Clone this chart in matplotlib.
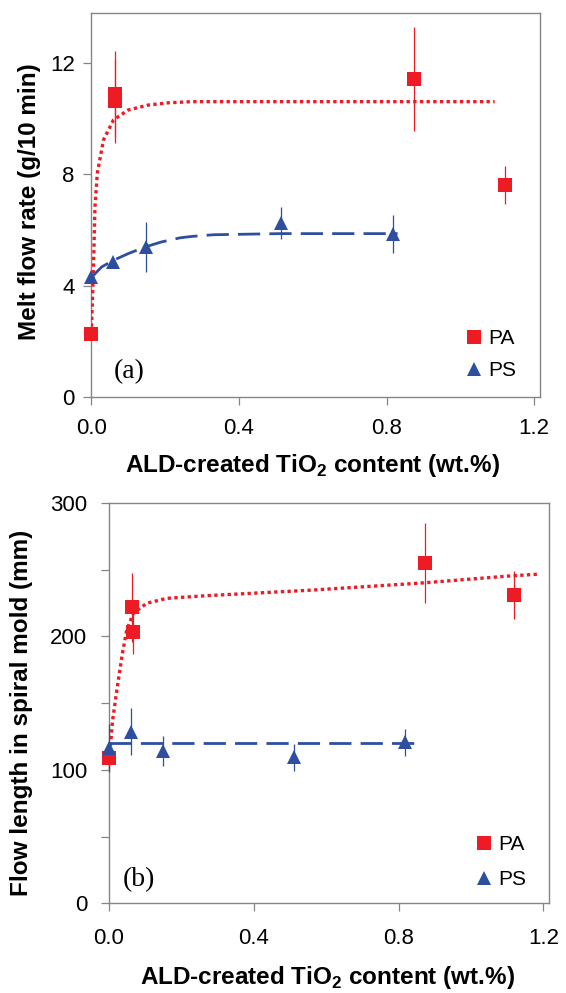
import matplotlib
matplotlib.use("Agg")
import matplotlib.pyplot as plt
from matplotlib.lines import Line2D
from matplotlib.ticker import FormatStrFormatter

plt.rcParams['font.family'] = ['Liberation Sans', 'DejaVu Sans']
plt.rcParams['mathtext.fontset'] = 'custom'
plt.rcParams['mathtext.rm'] = 'Liberation Sans'
plt.rcParams['mathtext.bf'] = 'Liberation Sans:bold'

RED = '#ED1C24'
BLUE = '#2E4F9F'
GRAY = '#868686'

# (a) melt flow rate
pa_x_a = [0.0, 0.064, 0.065, 0.874, 1.12]
pa_y_a = [2.25, 10.89, 10.65, 11.44, 7.62]
pa_err_a = [0.0, 1.55, 1.52, 1.86, 0.69]
ps_x_a = [0.0, 0.060, 0.147, 0.515, 0.818]
ps_y_a = [4.30, 4.85, 5.39, 6.25, 5.85]
ps_err_a = [0.0, 0.0, 0.90, 0.58, 0.68]
# trend lines
pa_fit_x_a = [0.0, 0.0055, 0.010, 0.0163, 0.033, 0.060, 0.10, 0.155, 0.21, 0.273, 1.093]
pa_fit_y_a = [2.28, 4.44, 6.84, 8.04, 9.24, 9.96, 10.32, 10.50, 10.58, 10.62, 10.62]
ps_fit_x_a = [0.0, 0.028, 0.060, 0.10, 0.146, 0.19, 0.241, 0.273, 0.332, 0.513, 0.83]
ps_fit_y_a = [4.29, 4.67, 4.91, 5.15, 5.39, 5.57, 5.72, 5.77, 5.83, 5.87, 5.87]

# (b) flow length in spiral mold
pa_x_b = [0.0, 0.064, 0.065, 0.874, 1.12]
pa_y_b = [108.6, 221.7, 203.0, 254.6, 230.9]
pa_err_b = [8.3, 26.0, 16.5, 30.0, 18.0]
ps_x_b = [0.0, 0.060, 0.148, 0.512, 0.817]
ps_y_b = [116.0, 128.5, 114.3, 109.3, 120.5]
ps_err_b = [18.0, 17.5, 11.2, 10.3, 10.3]
pa_fit_x_b = [0.0, 0.003, 0.010, 0.023, 0.037, 0.049, 0.067, 0.104, 0.159, 0.269, 0.562, 0.874, 1.103, 1.185]
pa_fit_y_b = [108.0, 114.8, 137.3, 162.2, 187.2, 204.7, 217.2, 224.7, 228.4, 230.4, 234.6, 240.1, 245.1, 246.5]
ps_fit_x_b = [0.0, 0.862]
ps_fit_y_b = [120.3, 120.3]

xticks = [0.0, 0.4, 0.8, 1.2]

fig = plt.figure(figsize=(5.66, 9.93), dpi=100)
ax1 = fig.add_axes([0.1613, 0.6005, 0.7922, 0.3861])
ax2 = fig.add_axes([0.1926, 0.0903, 0.7769, 0.4034])


def draw(ax, pax, pay, paerr, psx, psy, pserr, pfx, pfy, sfx, sfy):
    ax.plot(pfx, pfy, color=RED, lw=2.4, ls=(0, (1, 1)), dash_capstyle='butt', zorder=3)
    ax.plot(sfx, sfy, color=BLUE, lw=2.0, ls=(0, (8, 3.3)), dash_capstyle='butt', zorder=3)
    ax.errorbar(pax, pay, yerr=paerr, fmt='s', color=RED, ms=9.5, mew=0,
                elinewidth=0.9, capsize=3.4, capthick=0.9, zorder=4, clip_on=False)
    ax.errorbar(psx, psy, yerr=pserr, fmt='^', color=BLUE, ms=10.5, mew=0,
                elinewidth=0.9, capsize=3.4, capthick=0.9, zorder=4, clip_on=False)
    for s in ax.spines.values():
        s.set_color(GRAY)
        s.set_linewidth(1.0)
    ax.set_xlim(0, 1.215)
    ax.set_xticks(xticks)
    ax.xaxis.set_major_formatter(FormatStrFormatter('%.1f'))
    ax.tick_params(which='both', direction='out', length=6, width=0.9, color=GRAY,
                   labelsize=16, labelcolor='black')
    ax.set_xlabel('ALD-created TiO$_\\mathbf{2}$ content (wt.%)', fontsize=17.5, fontweight='bold')
    handles = [Line2D([], [], ls='none', marker='s', ms=9.5, mew=0, color=RED),
               Line2D([], [], ls='none', marker='^', ms=10.5, mew=0, color=BLUE)]
    return handles


h = draw(ax1, pa_x_a, pa_y_a, pa_err_a, ps_x_a, ps_y_a, ps_err_a,
         pa_fit_x_a, pa_fit_y_a, ps_fit_x_a, ps_fit_y_a)
ax1.set_ylim(0, 13.8)
ax1.set_yticks([0, 4, 8, 12])
ax1.tick_params(axis='y', pad=6)
ax1.tick_params(axis='x', pad=9)
ax1.set_ylabel('Melt flow rate (g/10 min)', fontsize=17.5, fontweight='bold')
ax1.xaxis.set_label_coords(0.494, -0.144)
ax1.yaxis.set_label_coords(-0.112, 0.509)
ax1.legend(h, ['PA', 'PS'], loc='upper left', bbox_to_anchor=(0.830, 0.177), frameon=False,
           fontsize=15, handlelength=1.0, handletextpad=0.2, borderpad=0, borderaxespad=0,
           labelspacing=0.63)
ax1.text(0.05, 0.049, '(a)', transform=ax1.transAxes, fontsize=20, family='Liberation Serif')

h = draw(ax2, pa_x_b, pa_y_b, pa_err_b, ps_x_b, ps_y_b, ps_err_b,
         pa_fit_x_b, pa_fit_y_b, ps_fit_x_b, ps_fit_y_b)
ax2.set_ylim(0, 300)
ax2.set_yticks([0, 100, 200, 300])
ax2.set_yticks([50, 150, 250], minor=True)
ax2.tick_params(axis='y', pad=9.5)
ax2.tick_params(axis='x', pad=11.5)
ax2.set_ylabel('Flow length in spiral mold (mm)', fontsize=17.5, fontweight='bold')
ax2.xaxis.set_label_coords(0.497, -0.151)
ax2.yaxis.set_label_coords(-0.173, 0.476)
ax2.legend(h, ['PA', 'PS'], loc='upper left', bbox_to_anchor=(0.829, 0.170), frameon=False,
           fontsize=15, handlelength=1.0, handletextpad=0.2, borderpad=0, borderaxespad=0,
           labelspacing=0.76)
ax2.text(0.031, 0.043, '(b)', transform=ax2.transAxes, fontsize=20, family='Liberation Serif')

fig.savefig('out.png', dpi=100)
